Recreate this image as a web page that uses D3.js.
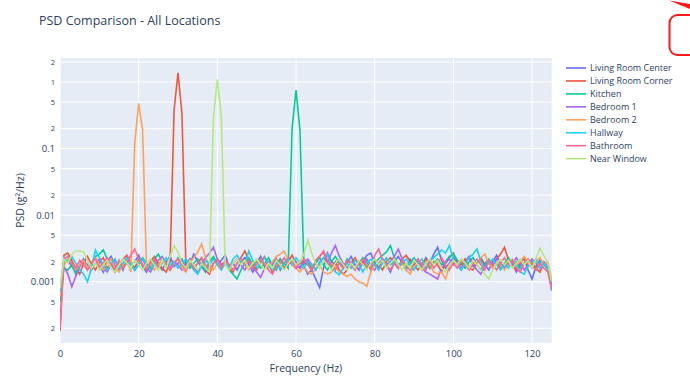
<!DOCTYPE html>
<html>
<head>
<meta charset="utf-8">
<script src="https://cdn.jsdelivr.net/npm/d3@7"></script>
<style>
    body { margin: 0; background: #fff; }
    #chart { width: 690px; height: 377px; }
    text { font-family: "Open Sans", verdana, arial, sans-serif; fill: #2a3f5f; }
</style>
</head>
<body>
<div id="chart"></div>
<script>
// frequency bins, 0..125 Hz in 1 Hz steps
const freqs = Array.from({length: 126}, (_, i) => i)

const locations = ["Living Room Center", "Living Room Corner", "Kitchen", "Bedroom 1", "Bedroom 2", "Hallway", "Bathroom", "Near Window"]
const colors = ["#636efa", "#EF553B", "#00cc96", "#ab63fa", "#FFA15A", "#19d3f3", "#FF6692", "#B6E880"]

// PSD values (g²/Hz), one per frequency bin
const livingRoomCenter = [
    0.0006, 0.0019, 0.0021, 0.0017, 0.0014, 0.0018, 0.0022, 0.0016, 0.0019, 0.0023,
    0.0018, 0.0014, 0.0020, 0.0024, 0.0017, 0.0019, 0.0015, 0.0022, 0.0018, 0.0020,
    0.0025, 0.0017, 0.0014, 0.0019, 0.0023, 0.0018, 0.0015, 0.0020, 0.0024, 0.0017,
    0.0019, 0.0022, 0.0015, 0.0018, 0.0026, 0.0020, 0.0017, 0.0014, 0.0019, 0.0023,
    0.0018, 0.0021, 0.0025, 0.0017, 0.0019, 0.0015, 0.0020, 0.0023, 0.0018, 0.0014,
    0.0019, 0.0024, 0.0017, 0.0020, 0.0018, 0.0022, 0.0015, 0.0019, 0.0023, 0.0018,
    0.0016, 0.0020, 0.0017, 0.0013, 0.0015, 0.0011, 0.00082, 0.0016, 0.0027, 0.0020,
    0.0018, 0.0022, 0.0017, 0.0019, 0.0024, 0.0018, 0.0015, 0.0020, 0.0025, 0.0027,
    0.0019, 0.0016, 0.0022, 0.0018, 0.0014, 0.0020, 0.0024, 0.0019, 0.0015, 0.0022,
    0.0018, 0.0020, 0.0016, 0.0023, 0.0019, 0.0026, 0.0033, 0.0021, 0.0016, 0.0019,
    0.0023, 0.0018, 0.0015, 0.0020, 0.0024, 0.0017, 0.0019, 0.0022, 0.0018, 0.0015,
    0.0020, 0.0025, 0.0018, 0.0016, 0.0022, 0.0019, 0.0014, 0.0018, 0.0023, 0.0015,
    0.0011, 0.0017, 0.0021, 0.0018, 0.0016, 0.00073]

const livingRoomCorner = [
    0.00018, 0.0025, 0.0027, 0.0021, 0.0016, 0.0013, 0.0019, 0.0024, 0.0018, 0.0015,
    0.0020, 0.0023, 0.0016, 0.0019, 0.0014, 0.0018, 0.0022, 0.0025, 0.0019, 0.0016,
    0.0022, 0.0018, 0.0015, 0.0020, 0.0024, 0.0019, 0.0016, 0.0014, 0.0020, 0.38,
    1.38, 0.34, 0.0018, 0.0022, 0.0016, 0.0019, 0.0023, 0.0015, 0.0013, 0.0019,
    0.0022, 0.0018, 0.0020, 0.0016, 0.0014, 0.0019, 0.0023, 0.0029, 0.0021, 0.0018,
    0.0015, 0.0020, 0.0024, 0.0018, 0.0014, 0.0019, 0.0022, 0.0016, 0.0020, 0.0025,
    0.0019, 0.0016, 0.0022, 0.0018, 0.0015, 0.0020, 0.0024, 0.0028, 0.0019, 0.0016,
    0.0020, 0.0015, 0.0013, 0.0015, 0.0019, 0.0023, 0.0018, 0.0020, 0.0016, 0.0019,
    0.0022, 0.0018, 0.0015, 0.0020, 0.0023, 0.0019, 0.0016, 0.0022, 0.0025, 0.0020,
    0.0018, 0.0015, 0.0019, 0.0022, 0.0016, 0.0020, 0.0018, 0.0014, 0.0019, 0.0023,
    0.0027, 0.0020, 0.0018, 0.0022, 0.0016, 0.0015, 0.0019, 0.0023, 0.0018, 0.0020,
    0.0016, 0.0022, 0.0026, 0.0033, 0.0021, 0.0018, 0.0015, 0.0019, 0.0023, 0.0018,
    0.0020, 0.0016, 0.0014, 0.0019, 0.0015, 0.0010]

const kitchen = [
    0.0005, 0.0016, 0.0015, 0.0018, 0.0013, 0.0017, 0.0021, 0.0015, 0.0019, 0.0024,
    0.0026, 0.0030, 0.0022, 0.0018, 0.0015, 0.0020, 0.0016, 0.0022, 0.0019, 0.0015,
    0.0018, 0.0023, 0.0019, 0.0016, 0.0022, 0.0026, 0.0020, 0.0018, 0.0015, 0.0019,
    0.0023, 0.0018, 0.0020, 0.0016, 0.0019, 0.0022, 0.0018, 0.0015, 0.0020, 0.0024,
    0.0019, 0.0016, 0.0020, 0.0015, 0.0013, 0.0011, 0.0015, 0.0019, 0.0023, 0.0018,
    0.0020, 0.0016, 0.0019, 0.0023, 0.0018, 0.0015, 0.0022, 0.0019, 0.0016, 0.20,
    0.76, 0.19, 0.0018, 0.0020, 0.0016, 0.0019, 0.0023, 0.0018, 0.0015, 0.0020,
    0.0024, 0.0019, 0.0016, 0.0022, 0.0018, 0.0015, 0.0019, 0.0023, 0.0020, 0.0016,
    0.0019, 0.0022, 0.0025, 0.0028, 0.0035, 0.0023, 0.0018, 0.0020, 0.0016, 0.0019,
    0.0023, 0.0018, 0.0015, 0.0020, 0.0016, 0.0019, 0.0022, 0.0018, 0.0020, 0.0024,
    0.0026, 0.0021, 0.0019, 0.0016, 0.0020, 0.0023, 0.0018, 0.0015, 0.0019, 0.0022,
    0.0018, 0.0020, 0.0016, 0.0019, 0.0023, 0.0018, 0.0020, 0.0016, 0.0019, 0.0022,
    0.0018, 0.0015, 0.0020, 0.0019, 0.0016, 0.0009]

const bedroom1 = [
    0.0006, 0.0017, 0.0013, 0.00084, 0.0012, 0.0017, 0.0021, 0.0018, 0.0015, 0.0019,
    0.0022, 0.0016, 0.0014, 0.0018, 0.0021, 0.0015, 0.0019, 0.0023, 0.0018, 0.0015,
    0.0019, 0.0022, 0.0016, 0.0014, 0.0018, 0.0021, 0.0024, 0.0019, 0.0016, 0.0020,
    0.0018, 0.0015, 0.0019, 0.0022, 0.0016, 0.0014, 0.0019, 0.0023, 0.0027, 0.0033,
    0.0022, 0.0018, 0.0020, 0.0016, 0.0019, 0.0022, 0.0018, 0.0015, 0.0020, 0.0016,
    0.0014, 0.00116, 0.0016, 0.0020, 0.0018, 0.0022, 0.0016, 0.0019, 0.0023, 0.0018,
    0.0020, 0.0016, 0.0019, 0.0022, 0.0018, 0.0015, 0.0020, 0.0023, 0.0019, 0.0027,
    0.0035, 0.0024, 0.0019, 0.0016, 0.0020, 0.0018, 0.0015, 0.0019, 0.0022, 0.0018,
    0.0015, 0.0019, 0.0022, 0.0018, 0.0020, 0.0024, 0.0031, 0.0022, 0.0018, 0.0015,
    0.0019, 0.0022, 0.0016, 0.0014, 0.0013, 0.0012, 0.0011, 0.0016, 0.0019, 0.0022,
    0.0018, 0.0020, 0.0016, 0.0019, 0.0023, 0.0018, 0.0015, 0.0013, 0.0017, 0.0021,
    0.0018, 0.0022, 0.0019, 0.0016, 0.0020, 0.0018, 0.0023, 0.0019, 0.0015, 0.0018,
    0.0022, 0.0019, 0.0016, 0.0020, 0.0018, 0.0009]

const bedroom2 = [
    0.0006, 0.0018, 0.0022, 0.0019, 0.0015, 0.0018, 0.0021, 0.0016, 0.0019, 0.0023,
    0.0018, 0.0015, 0.0019, 0.0022, 0.0016, 0.0014, 0.0018, 0.0021, 0.0014, 0.12,
    0.48, 0.19, 0.0016, 0.0019, 0.0015, 0.0018, 0.0022, 0.0018, 0.0015, 0.0019,
    0.0022, 0.0016, 0.0014, 0.0019, 0.0023, 0.0028, 0.0037, 0.0023, 0.0018, 0.0015,
    0.0019, 0.0016, 0.0020, 0.0018, 0.0015, 0.0019, 0.0022, 0.0018, 0.0015, 0.0020,
    0.0018, 0.0022, 0.0019, 0.0016, 0.0020, 0.0024, 0.0026, 0.0029, 0.0021, 0.0018,
    0.0016, 0.0014, 0.0017, 0.0014, 0.0013, 0.0016, 0.0018, 0.0014, 0.0013, 0.0014,
    0.0017, 0.0014, 0.0013, 0.0012, 0.0013, 0.0011, 0.0010, 0.00095, 0.00085, 0.0014,
    0.0018, 0.0015, 0.0019, 0.0022, 0.0018, 0.0020, 0.0016, 0.0019, 0.0015, 0.0013,
    0.0017, 0.0019, 0.0015, 0.0020, 0.0018, 0.0014, 0.0013, 0.0014, 0.0011, 0.0017,
    0.0021, 0.0018, 0.0022, 0.0019, 0.0016, 0.0020, 0.0018, 0.0023, 0.0026, 0.0019,
    0.0016, 0.0020, 0.0018, 0.0015, 0.0019, 0.0022, 0.0018, 0.0020, 0.0024, 0.0019,
    0.0016, 0.0020, 0.0023, 0.0018, 0.0020, 0.0011]

const hallway = [
    0.0007, 0.0023, 0.0020, 0.0024, 0.0019, 0.0015, 0.0013, 0.0010, 0.0016, 0.0030,
    0.0023, 0.0018, 0.0015, 0.0019, 0.0022, 0.0016, 0.0019, 0.0023, 0.0018, 0.0015,
    0.0019, 0.0022, 0.0018, 0.0015, 0.0020, 0.0016, 0.0019, 0.0023, 0.0018, 0.0020,
    0.0016, 0.0019, 0.0022, 0.0018, 0.0015, 0.0013, 0.0017, 0.0021, 0.0018, 0.0022,
    0.0018, 0.0015, 0.0019, 0.0016, 0.0022, 0.0025, 0.0020, 0.0018, 0.0029, 0.0021,
    0.0016, 0.0019, 0.0023, 0.0018, 0.0015, 0.0020, 0.0016, 0.0019, 0.0022, 0.0018,
    0.0023, 0.0019, 0.0016, 0.0020, 0.0018, 0.0015, 0.0019, 0.0023, 0.0026, 0.0017,
    0.0014, 0.00127, 0.0016, 0.0019, 0.0016, 0.0021, 0.0018, 0.0014, 0.0019, 0.0022,
    0.0018, 0.0015, 0.0019, 0.0023, 0.0018, 0.0020, 0.0016, 0.0019, 0.0022, 0.0018,
    0.0015, 0.0019, 0.0022, 0.0016, 0.0020, 0.0023, 0.0026, 0.0030, 0.0027, 0.0035,
    0.0021, 0.0018, 0.0015, 0.0019, 0.0023, 0.0026, 0.0031, 0.0020, 0.0016, 0.0019,
    0.0022, 0.0018, 0.0015, 0.0019, 0.0016, 0.0021, 0.0018, 0.0014, 0.0013, 0.0017,
    0.0019, 0.0022, 0.0016, 0.0019, 0.0015, 0.0010]

const bathroom = [
    0.0002, 0.0022, 0.0024, 0.0019, 0.0016, 0.0021, 0.0018, 0.0015, 0.0019, 0.0022,
    0.0016, 0.0019, 0.0023, 0.0018, 0.0015, 0.0021, 0.0016, 0.0019, 0.0025, 0.0031,
    0.0022, 0.0018, 0.0015, 0.0019, 0.0022, 0.0016, 0.0021, 0.0018, 0.0015, 0.0019,
    0.0022, 0.0018, 0.0015, 0.0021, 0.0016, 0.0019, 0.0023, 0.0018, 0.0015, 0.0019,
    0.0022, 0.0016, 0.0021, 0.0018, 0.0015, 0.0019, 0.0023, 0.0018, 0.0021, 0.0016,
    0.0019, 0.0022, 0.0018, 0.0015, 0.0013, 0.0017, 0.0019, 0.0023, 0.0018, 0.0021,
    0.0016, 0.0019, 0.0022, 0.0018, 0.0015, 0.0021, 0.0024, 0.0029, 0.0021, 0.0018,
    0.0015, 0.0019, 0.0016, 0.0021, 0.0018, 0.0015, 0.0019, 0.0022, 0.0018, 0.0015,
    0.0025, 0.0031, 0.0021, 0.0018, 0.0015, 0.0019, 0.0016, 0.0021, 0.0018, 0.0015,
    0.0019, 0.0022, 0.0018, 0.0015, 0.0021, 0.0016, 0.0019, 0.0023, 0.0018, 0.0015,
    0.0019, 0.0016, 0.0021, 0.0018, 0.0015, 0.0019, 0.0022, 0.0018, 0.0015, 0.0021,
    0.0018, 0.0015, 0.0019, 0.0023, 0.0018, 0.0021, 0.0016, 0.0014, 0.0019, 0.0022,
    0.0018, 0.0015, 0.0019, 0.0016, 0.0014, 0.0008]

const nearWindow = [
    0.0008, 0.0022, 0.0019, 0.0026, 0.0029, 0.0029, 0.0028, 0.0021, 0.0016, 0.0019,
    0.0015, 0.0018, 0.0021, 0.0016, 0.0014, 0.0018, 0.0022, 0.0019, 0.0016, 0.0021,
    0.0018, 0.0015, 0.0019, 0.0022, 0.0018, 0.0015, 0.0021, 0.0016, 0.0024, 0.0035,
    0.0028, 0.0019, 0.0016, 0.0021, 0.0018, 0.0015, 0.0019, 0.0016, 0.0014, 0.29,
    1.10, 0.30, 0.0018, 0.0015, 0.0019, 0.0022, 0.0018, 0.0021, 0.0016, 0.0019,
    0.0022, 0.0018, 0.0015, 0.0019, 0.0016, 0.0021, 0.0018, 0.0015, 0.0019, 0.0022,
    0.0018, 0.0020, 0.0026, 0.0042, 0.0027, 0.0019, 0.0016, 0.0021, 0.0018, 0.0015,
    0.0019, 0.0022, 0.0018, 0.0015, 0.0019, 0.0016, 0.0021, 0.0018, 0.0015, 0.0019,
    0.0022, 0.0018, 0.0021, 0.0016, 0.0019, 0.0022, 0.0018, 0.0015, 0.0019, 0.0016,
    0.0021, 0.0018, 0.0015, 0.0019, 0.0022, 0.0018, 0.0021, 0.0016, 0.0014, 0.0018,
    0.0021, 0.0018, 0.0022, 0.0019, 0.0016, 0.0021, 0.0018, 0.0015, 0.0013, 0.0011,
    0.0015, 0.0019, 0.0022, 0.0018, 0.0021, 0.0016, 0.0019, 0.0022, 0.0018, 0.0021,
    0.0016, 0.0022, 0.0032, 0.0025, 0.0019, 0.0010]

const seriesValues = [livingRoomCenter, livingRoomCorner, kitchen, bedroom1, bedroom2, hallway, bathroom, nearWindow]

// axis ticks
const xTicks = [0, 20, 40, 60, 80, 100, 120]
const yTicks = [0.0002, 0.0005, 0.001, 0.002, 0.005, 0.01, 0.02, 0.05, 0.1, 0.2, 0.5, 1, 2]
const yTickLabels = ["2", "5", "0.001", "2", "5", "0.01", "2", "5", "0.1", "2", "5", "1", "2"]

const W = 690, H = 377
const plot = {left: 60, right: 551.7, top: 58, bottom: 343}

const svg = d3.select("#chart").append("svg")
    .attr("width", W)
    .attr("height", H)

// scales
const x = d3.scaleLinear()
    .domain([0, 125])
    .range([plot.left, plot.right])

const y = d3.scaleLog()
    .domain([Math.pow(10, -3.92), Math.pow(10, 0.361)])
    .range([plot.bottom, plot.top])

// plot background
svg.append("rect")
    .attr("x", plot.left)
    .attr("y", plot.top)
    .attr("width", plot.right - plot.left)
    .attr("height", plot.bottom - plot.top)
    .attr("fill", "#E5ECF6")

// grid lines
svg.append("g")
    .selectAll("line")
    .data(xTicks)
    .enter().append("line")
    .attr("x1", d => x(d)).attr("x2", d => x(d))
    .attr("y1", plot.top).attr("y2", plot.bottom)
    .attr("stroke", "#fff")
    .attr("stroke-width", 1)

svg.append("g")
    .selectAll("line")
    .data(yTicks)
    .enter().append("line")
    .attr("x1", plot.left).attr("x2", plot.right)
    .attr("y1", d => y(d)).attr("y2", d => y(d))
    .attr("stroke", "#fff")
    .attr("stroke-width", 1)

// axes (labels only, plotly style)
const xAxis = d3.axisBottom(x)
    .tickValues(xTicks)
    .tickSize(0)
    .tickPadding(7)

svg.append("g")
    .attr("transform", `translate(0, ${plot.bottom})`)
    .call(xAxis)
    .call(g => g.select(".domain").remove())
    .selectAll("text")
    .style("font-size", "9.5px")
    .attr("fill", "#2a3f5f")

const yAxis = d3.axisLeft(y)
    .tickValues(yTicks)
    .tickFormat((d, i) => yTickLabels[i])
    .tickSize(0)
    .tickPadding(4)

svg.append("g")
    .attr("transform", `translate(${plot.left - 1}, 0)`)
    .call(yAxis)
    .call(g => g.select(".domain").remove())
    .selectAll("text")
    .attr("fill", "#2a3f5f")
    .style("font-size", (d, i) => yTickLabels[i].length > 1 ? "9.5px" : "7.5px")

// lines
svg.append("clipPath")
    .attr("id", "plot-clip")
    .append("rect")
    .attr("x", plot.left)
    .attr("y", plot.top)
    .attr("width", plot.right - plot.left)
    .attr("height", plot.bottom - plot.top)

const line = d3.line()
    .x((d, i) => x(freqs[i]))
    .y(d => y(d))

svg.append("g")
    .attr("clip-path", "url(#plot-clip)")
    .selectAll("path")
    .data(seriesValues)
    .enter().append("path")
    .attr("d", line)
    .attr("fill", "none")
    .attr("stroke", (d, i) => colors[i])
    .attr("stroke-width", 1.6)

// titles
svg.append("text")
    .attr("x", 39)
    .attr("y", 24.5)
    .style("font-size", "12.5px")
    .text("PSD Comparison - All Locations")

svg.append("text")
    .attr("x", (plot.left + plot.right) / 2)
    .attr("y", 372)
    .attr("text-anchor", "middle")
    .style("font-size", "10.5px")
    .text("Frequency (Hz)")

svg.append("text")
    .attr("transform", `translate(24, ${(plot.top + plot.bottom) / 2}) rotate(-90)`)
    .attr("text-anchor", "middle")
    .style("font-size", "10.5px")
    .text("PSD (g²/Hz)")

// legend
const legend = svg.append("g")
    .attr("transform", "translate(566, 68)")

const legendItem = legend.selectAll("g")
    .data(locations)
    .enter().append("g")
    .attr("transform", (d, i) => `translate(0, ${i * 12.95})`)

legendItem.append("line")
    .attr("x1", 0).attr("x2", 20)
    .attr("stroke", (d, i) => colors[i])
    .attr("stroke-width", 1.6)

legendItem.append("text")
    .attr("x", 24)
    .attr("dy", "0.35em")
    .style("font-size", "9px")
    .text(d => d)

// red mark at the top right corner
svg.append("rect")
    .attr("x", 669.5)
    .attr("y", 15)
    .attr("width", 40)
    .attr("height", 40)
    .attr("rx", 8)
    .attr("fill", "none")
    .attr("stroke", "#ff1a1a")
    .attr("stroke-width", 2)

svg.append("path")
    .attr("d", "M669,0.5 L690,4 L690,9 Z")
    .attr("fill", "#ff1a1a")
</script>
</body>
</html>
